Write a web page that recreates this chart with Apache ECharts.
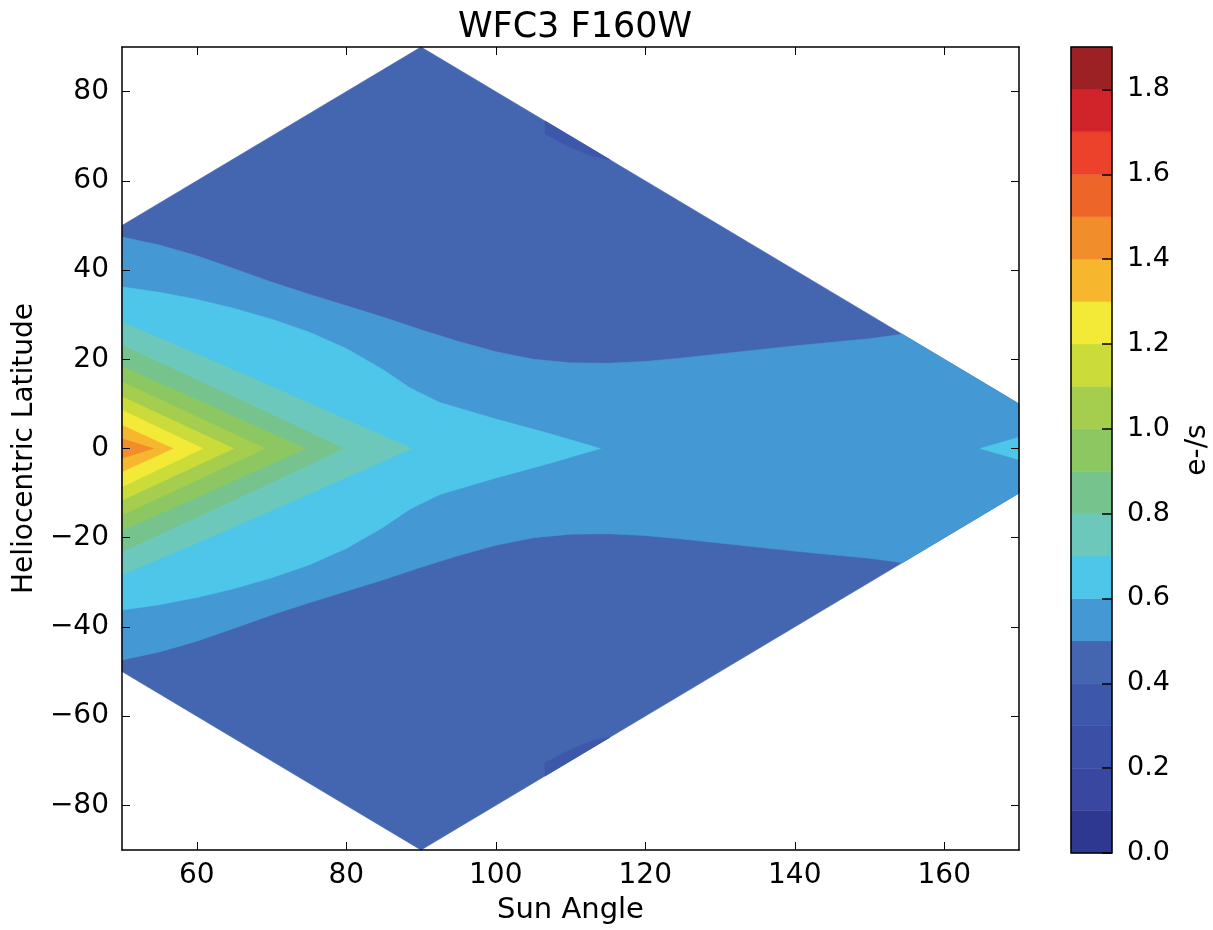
<!DOCTYPE html>
<html>
<head>
<meta charset="utf-8">
<script src="https://cdn.jsdelivr.net/npm/echarts@6/dist/echarts.min.js"></script>
<style>html,body{margin:0;padding:0;background:#fff}#c{width:1213px;height:930px}</style>
</head>
<body>
<div id="c"></div>
<script>
// ---- data: filled contour regions, as [sun angle, heliocentric latitude] paths ----
// observable region (value 0.4-0.5 everywhere unless covered by a higher/lower band)
const domain = [[50, 50], [90, 90], [170, 10], [170, -10], [90, -90], [50, -50]];
// 0.3-0.4 pockets along the edge
const patchNorth = [[106.6, 73.4], [115.3, 64.7], [113, 65.5], [110, 67.5], [106.6, 70.5]];
const patchSouth = [[106.6, -73.4], [106.6, -70.5], [110, -67.5], [113, -65.5], [115.3, -64.7]];
// rate >= 0.5
const region05 = [[50, 47.4], [55, 45.6], [60, 43.2], [65, 40.3], [70, 37.3], [75, 34.6], [80, 32.0], [85, 29.4],
  [90, 26.6], [95, 24.0], [100, 21.7], [105, 20.0], [110, 19.2], [115, 19.1], [120, 19.5], [125, 20.3], [130, 21.2],
  [135, 22.1], [140, 23.0], [145, 23.8], [150, 24.6], [154.4, 25.6], [170, 10], [170, -10], [154.4, -25.6],
  [150, -24.6], [145, -23.8], [140, -23.0], [135, -22.1], [130, -21.2], [125, -20.3], [120, -19.5], [115, -19.1],
  [110, -19.2], [105, -20.0], [100, -21.7], [95, -24.0], [90, -26.6], [85, -29.4], [80, -32.0], [75, -34.6],
  [70, -37.3], [65, -40.3], [60, -43.2], [55, -45.6], [50, -47.4]];
// rate >= 0.6
const region06 = [[50, 36.2], [55, 35.0], [60, 33.4], [65, 31.4], [70, 29.0], [75, 26.1], [80, 22.4], [85, 17.6],
  [88.5, 13.6], [92.5, 10.3], [100, 6.6], [107, 3.4], [114, 0], [107, -3.4], [100, -6.6], [92.5, -10.3], [88.5, -13.6],
  [85, -17.6], [80, -22.4], [75, -26.1], [70, -29.0], [65, -31.4], [60, -33.4], [55, -35.0], [50, -36.2]];
const region06East = [[164.8, 0], [170, 2.5], [170, -2.5]];
// rate >= 0.7 ... 1.4
const region07 = [[50, 28.3], [60, 21.2], [70, 13.9], [80, 6.5], [88.8, 0], [80, -6.5], [70, -13.9], [60, -21.2], [50, -28.3]];
const region08 = [[50, 23.1], [60, 15.4], [70, 7.6], [79.6, 0], [70, -7.6], [60, -15.4], [50, -23.1]];
const region09 = [[50, 18.3], [60, 10.9], [74.5, 0], [60, -10.9], [50, -18.3]];
const region10 = [[50, 14.9], [60, 7.1], [69.1, 0], [60, -7.1], [50, -14.9]];
const region11 = [[50, 11.6], [64.9, 0], [50, -11.6]];
const region12 = [[50, 8.6], [60.8, 0], [50, -8.6]];
const region13 = [[50, 5.2], [56.8, 0], [50, -5.2]];
const region14 = [[50, 2.2], [54.2, 0], [50, -2.2]];

// lower bound (e-/s) of the band each region is filled with, drawn in this order
const regionLevels = [0.4, 0.3, 0.3, 0.5, 0.6, 0.6, 0.7, 0.8, 0.9, 1.0, 1.1, 1.2, 1.3, 1.4];
const regionPaths = [domain, patchNorth, patchSouth, region05, region06, region06East, region07, region08,
  region09, region10, region11, region12, region13, region14];

const levels = [0.0, 0.1, 0.2, 0.3, 0.4, 0.5, 0.6, 0.7, 0.8, 0.9, 1.0, 1.1, 1.2, 1.3, 1.4, 1.5, 1.6, 1.7, 1.8, 1.9];
const bandColors = ['#2f3890', '#3947a0', '#3b4fa6', '#3d58ab', '#4465af', '#4499d4', '#4ec6e9', '#6cc8ba',
  '#77c38e', '#8dc762', '#a6ce4e', '#cbdb3a', '#f3e937', '#f6b72e', '#f18d2b', '#ee6529', '#ec412a', '#d0232a', '#9c2125'];
const xTicks = [60, 80, 100, 120, 140, 160];
const yTicks = [-80, -60, -40, -20, 0, 20, 40, 60, 80];
const cbTicks = [0.0, 0.2, 0.4, 0.6, 0.8, 1.0, 1.2, 1.4, 1.6, 1.8];

const bandIndex = lv => levels.findIndex(l => Math.abs(l - lv) < 1e-9);

const font = 'DejaVu Sans';
const chart = echarts.init(document.getElementById('c'), null, { renderer: 'canvas' });
const fmtNum = v => (v < 0 ? '\u2212' + Math.abs(v) : String(v));

chart.setOption({
  backgroundColor: '#fff',
  animation: false,
  title: {
    text: 'WFC3 F160W', left: 570, top: 5, textAlign: 'center',
    textStyle: { fontFamily: font, fontSize: 35, fontWeight: 'normal', color: '#000' }
  },
  grid: [
    { left: 122, top: 47, width: 897, height: 806 },
    { left: 1071, top: 47, width: 45, height: 806, show: true, borderColor: '#000', borderWidth: 1.5, backgroundColor: 'transparent', z: 10 }
  ],
  xAxis: [
    {
      gridIndex: 0, type: 'value', min: 50, max: 170, position: 'bottom', z: 10,
      axisLine: { show: true, onZero: false, lineStyle: { color: '#000', width: 1.5 } },
      axisTick: { show: true, inside: true, length: 8, customValues: xTicks, lineStyle: { color: '#000', width: 1 } },
      axisLabel: { customValues: xTicks, fontFamily: font, fontSize: 28, color: '#000', margin: 12 },
      splitLine: { show: false },
      name: 'Sun Angle', nameLocation: 'middle', nameGap: 46,
      nameTextStyle: { fontFamily: font, fontSize: 29, color: '#000' }
    },
    {
      gridIndex: 0, type: 'value', min: 50, max: 170, position: 'top', z: 10,
      axisLine: { show: true, onZero: false, lineStyle: { color: '#000', width: 1.5 } },
      axisTick: { show: true, inside: true, length: 8, customValues: xTicks, lineStyle: { color: '#000', width: 1 } },
      axisLabel: { show: false }, splitLine: { show: false }
    },
    { gridIndex: 1, type: 'value', min: 0, max: 1, show: false }
  ],
  yAxis: [
    {
      gridIndex: 0, type: 'value', min: -90, max: 90, position: 'left', z: 10,
      axisLine: { show: true, onZero: false, lineStyle: { color: '#000', width: 1.5 } },
      axisTick: { show: true, inside: true, length: 8, customValues: yTicks, lineStyle: { color: '#000', width: 1 } },
      axisLabel: { customValues: yTicks, formatter: fmtNum, fontFamily: font, fontSize: 28, color: '#000', margin: 13 },
      splitLine: { show: false },
      name: 'Heliocentric Latitude', nameLocation: 'middle', nameGap: 80, nameRotate: 90,
      nameTextStyle: { fontFamily: font, fontSize: 28, color: '#000' }
    },
    {
      gridIndex: 0, type: 'value', min: -90, max: 90, position: 'right', z: 10,
      axisLine: { show: true, onZero: false, lineStyle: { color: '#000', width: 1.5 } },
      axisTick: { show: true, inside: true, length: 8, customValues: yTicks, lineStyle: { color: '#000', width: 1 } },
      axisLabel: { show: false }, splitLine: { show: false }
    },
    {
      gridIndex: 1, type: 'value', min: 0, max: 1.9, position: 'right', z: 11,
      axisLine: { show: false, onZero: false },
      axisTick: { show: true, inside: true, length: 10, customValues: cbTicks, lineStyle: { color: '#000', width: 1.5 } },
      axisLabel: { customValues: cbTicks, formatter: v => v.toFixed(1), fontFamily: font, fontSize: 27, color: '#000', margin: 15 },
      splitLine: { show: false },
      name: 'e-/s', nameLocation: 'middle', nameGap: 72, nameRotate: 90,
      nameTextStyle: { fontFamily: font, fontSize: 28, color: '#000' }
    }
  ],
  series: [
    {
      type: 'custom', xAxisIndex: 0, yAxisIndex: 0, z: 2, silent: true,
      data: regionPaths.map((p, i) => [p[0][0], p[0][1], i]),
      encode: { x: 0, y: 1 },
      renderItem: function (params, api) {
        const i = params.dataIndex;
        const col = bandColors[bandIndex(regionLevels[i])];
        return {
          type: 'polygon',
          shape: { points: regionPaths[i].map(p => api.coord(p)) },
          style: { fill: col, stroke: col, lineWidth: 0.6 }
        };
      }
    },
    {
      type: 'custom', xAxisIndex: 2, yAxisIndex: 2, z: 2, silent: true,
      data: bandColors.map((c, i) => [0.5, (levels[i] + levels[i + 1]) / 2, i]),
      encode: { x: 0, y: 1 },
      renderItem: function (params, api) {
        const i = params.dataIndex;
        const p0 = api.coord([0, levels[i]]), p1 = api.coord([1, levels[i + 1]]);
        return {
          type: 'rect',
          shape: { x: p0[0], y: p1[1], width: p1[0] - p0[0], height: p0[1] - p1[1] },
          style: { fill: bandColors[i], stroke: bandColors[i], lineWidth: 0.5 }
        };
      }
    }
  ]
});
</script>
</body>
</html>
